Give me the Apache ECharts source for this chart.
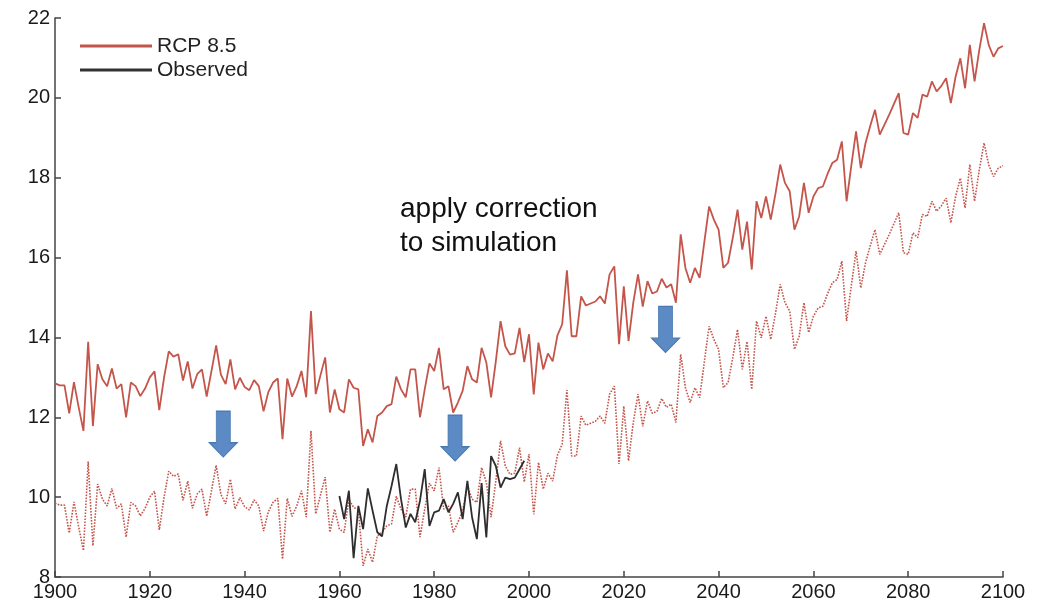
<!DOCTYPE html>
<html>
<head>
<meta charset="utf-8">
<script src="https://cdn.jsdelivr.net/npm/echarts@6/dist/echarts.min.js"></script>
<style>
  html, body { margin: 0; padding: 0; background: #fff; }
  #chart { width: 1043px; height: 608px; }
</style>
</head>
<body>
<div id="chart"></div>
<script>
// Annual mean temperature, first year of the simulated record
const startYear = 1900;

// RCP 8.5 simulation, 1900-2100
const rcp85 = [
  12.85, 12.8, 12.8, 12.1, 12.88, 12.25, 11.66, 13.89, 11.78, 13.33,
  12.95, 12.78, 13.22, 12.72, 12.83, 12.0, 12.87, 12.78, 12.53, 12.72,
  13.0, 13.15, 12.18, 12.99, 13.65, 13.52, 13.58, 12.92, 13.4, 12.72,
  13.08, 13.2, 12.52, 13.15, 13.8, 13.07, 12.83, 13.45, 12.7, 12.99,
  12.76, 12.68, 12.93, 12.78, 12.15, 12.63, 12.87, 12.97, 11.45, 12.97,
  12.52, 12.78, 13.16, 12.5, 14.66, 12.58, 13.05, 13.5, 12.12, 12.7,
  12.2, 12.12, 12.95, 12.74, 12.7, 11.28, 11.7, 11.37, 12.03, 12.12,
  12.28, 12.33, 13.02, 12.7, 12.5, 13.2, 13.2, 12.0, 12.7, 13.35,
  13.16, 13.74, 12.7, 12.78, 12.12, 12.37, 12.66, 13.28, 12.95, 12.87,
  13.74, 13.37, 12.5, 13.4, 14.41, 13.78, 13.57, 13.6, 14.24, 13.38,
  14.08, 12.57, 13.87, 13.2, 13.6, 13.4, 14.05, 14.33, 15.68, 14.03,
  14.03, 15.03, 14.8, 14.85, 14.9, 15.03, 14.85, 15.58, 15.78, 13.83,
  15.28, 13.91, 14.87, 15.58, 14.77, 15.41, 15.1, 15.15, 15.47, 15.25,
  15.33, 14.87, 16.58, 15.74, 15.37, 15.74, 15.49, 16.4, 17.28, 16.95,
  16.7, 15.74, 15.87, 16.5, 17.2, 16.2, 16.9, 15.7, 17.41, 16.99,
  17.53, 16.95, 17.6, 18.33, 17.87, 17.66, 16.7, 17.03, 17.87, 17.12,
  17.53, 17.74, 17.78, 18.1, 18.37, 18.45, 18.91, 17.41, 18.3, 19.16,
  18.24, 18.87, 19.3, 19.7, 19.08, 19.33, 19.58, 19.85, 20.12, 19.12,
  19.08, 19.62, 19.5, 20.08, 20.03, 20.41, 20.16, 20.3, 20.49, 19.87,
  20.53, 20.99, 20.24, 21.33, 20.41, 21.2, 21.87, 21.32, 21.03, 21.24,
  21.3
];

// Bias correction applied to the simulation (observed minus simulated mean)
const biasCorrection = -3.0;

// Observed record, 1960-1999
const observedStart = 1960;
const observed = [
  10.03, 9.45, 10.16, 8.47, 9.78, 9.2, 10.22, 9.66, 9.12, 9.02,
  9.78, 10.28, 10.83, 9.95, 9.24, 9.58, 9.37, 9.91, 10.7, 9.28,
  9.62, 9.66, 9.95, 9.62, 9.83, 10.12, 9.45, 10.41, 9.49, 8.95,
  10.35, 8.99, 11.03, 10.78, 10.24, 10.49, 10.45, 10.49, 10.7, 10.91
];

// Arrow markers: [year, temperature] at the centre of each arrow
const correctionArrows = [[1935.5, 11.58], [1984.4, 11.48], [2028.8, 14.2]];

const seriesNames = ['RCP 8.5', 'Observed'];
const annotation = 'apply correction\nto simulation';

const toPairs = (first, values) => values.map((v, i) => [first + i, v]);
const rcpPairs = toPairs(startYear, rcp85);
const correctedPairs = toPairs(startYear, rcp85.map(v => +(v + biasCorrection).toFixed(2)));
const observedPairs = toPairs(observedStart, observed);

const red = '#c4554a';
const axisColor = '#444';
const font = '"Liberation Sans", Arial, sans-serif';
const arrowPath = 'path://M7,0 L21,0 L21,31 L28,31 L14,45 L0,31 L7,31 Z';

const chart = echarts.init(document.getElementById('chart'), null, { renderer: 'canvas' });

const axisCommon = {
  type: 'value',
  axisLine: { show: true, lineStyle: { color: axisColor, width: 1.5 } },
  axisTick: { show: true, inside: true, length: 6, lineStyle: { color: axisColor, width: 1.5 } },
  axisLabel: { color: '#1a1a1a', fontSize: 20, fontFamily: font, margin: 5 },
  splitLine: { show: false }
};

chart.setOption({
  animation: false,
  backgroundColor: '#fff',
  grid: { left: 55, right: 40, top: 18, bottom: 31, containLabel: false },
  legend: {
    data: seriesNames,
    orient: 'vertical',
    left: 75,
    top: 29,
    icon: 'rect',
    itemWidth: 72,
    itemHeight: 3,
    itemGap: 0,
    textStyle: { fontSize: 21, fontFamily: font, color: '#222', lineHeight: 24 }
  },
  xAxis: Object.assign({}, axisCommon, {
    min: 1900, max: 2100, interval: 20,
    axisLabel: Object.assign({}, axisCommon.axisLabel, { formatter: v => String(v) })
  }),
  yAxis: Object.assign({}, axisCommon, { min: 8, max: 22, interval: 2 }),
  graphic: [{
    type: 'text',
    left: 400,
    top: 192,
    style: { text: annotation, fontSize: 28, lineHeight: 34, fontFamily: font, fill: '#111' }
  }],
  series: [
    {
      name: 'RCP 8.5',
      type: 'line',
      data: rcpPairs,
      showSymbol: false,
      itemStyle: { color: red },
      lineStyle: { color: red, width: 1.8 },
      z: 3
    },
    {
      name: 'Corrected',
      type: 'line',
      data: correctedPairs,
      showSymbol: false,
      itemStyle: { color: red },
      lineStyle: { color: red, width: 1.6, type: [1.6, 1.4] },
      z: 2,
      markPoint: {
        symbol: arrowPath,
        symbolSize: [28, 46],
        silent: true,
        itemStyle: { color: '#5b8ac4', borderColor: '#4a78b0', borderWidth: 1 },
        label: { show: false },
        data: correctionArrows.map(c => ({ coord: c }))
      }
    },
    {
      name: 'Observed',
      type: 'line',
      data: observedPairs,
      showSymbol: false,
      itemStyle: { color: '#333' },
      lineStyle: { color: '#2e2e2e', width: 1.8 },
      z: 4
    }
  ]
});
</script>
</body>
</html>
